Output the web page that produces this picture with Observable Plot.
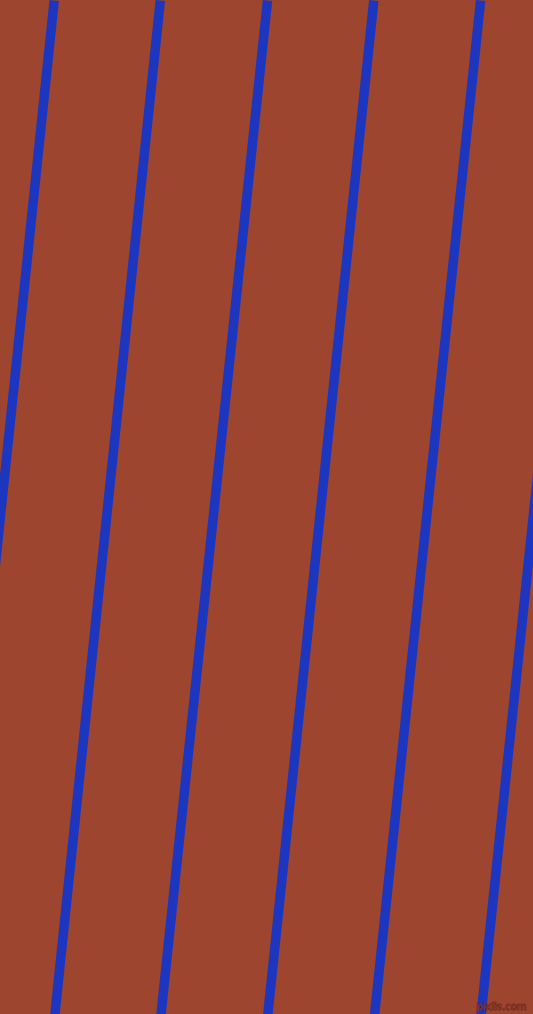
<!DOCTYPE html>
<html>
<head>
<meta charset="utf-8">
<script src="https://cdn.jsdelivr.net/npm/d3@7"></script>
<script src="https://cdn.jsdelivr.net/npm/@observablehq/plot@0.6"></script>
<style>
  html, body { margin: 0; padding: 0; background: #9d452e; overflow: hidden; }
  #chart svg { display: block; }
</style>
</head>
<body>
<div id="chart"></div>
<script>
// Stripe end points (top edge / bottom edge, in pixel units of the x domain)
const topX = [53.7, 159.8, 267.0, 373.3, 480.1, 586.7];
const bottomX = [-52.0, 54.4, 160.5, 267.3, 374.1, 480.6];
const watermark = ["pixlis.com"];

const W = 533, H = 1014;
const stripes = topX.map((t, i) => ({x1: t, y1: 0, x2: bottomX[i], y2: H}));

const chart = Plot.plot({
  width: W,
  height: H,
  margin: 0,
  x: {domain: [0, W], range: [0, W], axis: null},
  y: {domain: [0, H], range: [0, H], axis: null},
  style: {background: "#9d452e", overflow: "hidden"},
  marks: [
    Plot.frame({fill: "#9d452e", stroke: null}),
    Plot.link(stripes, {
      x1: "x1", y1: "y1", x2: "x2", y2: "y2",
      stroke: "#1c36c0",
      strokeWidth: 9.5,
      strokeLinecap: "butt",
      clip: true
    }),
    Plot.text(watermark, {
      text: d => d,
      frameAnchor: "bottom-right",
      dx: -7,
      dy: -5,
      fontSize: 10,
      fontFamily: "DejaVu Sans",
      fill: "#8a3a26",
      stroke: "#5e2315",
      strokeWidth: 0.8
    })
  ]
});
document.getElementById("chart").appendChild(chart);
</script>
</body>
</html>
